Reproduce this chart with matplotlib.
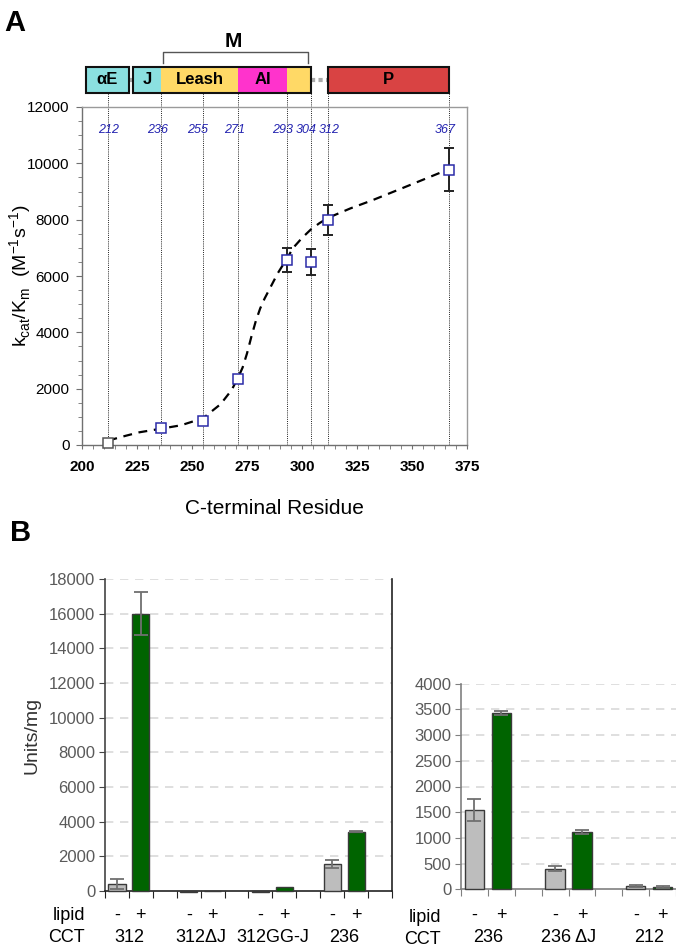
import matplotlib
matplotlib.use("Agg")
import matplotlib.pyplot as plt
import numpy as np
from matplotlib.patches import Rectangle
from matplotlib.transforms import blended_transform_factory

plt.rcParams['font.family'] = ['Liberation Sans', 'DejaVu Sans']

# ---------------- Panel A data ----------------
residues = [212, 236, 255, 271, 293, 304, 312, 367]
kcat_km = [83, 615, 864, 2330, 6570, 6490, 7990, 9770]
kcat_err = [0, 0, 0, 0, 420, 460, 530, 760]
marker_colors = ['#555555', '#2b2ba8', '#2b2ba8', '#2b2ba8', '#2b2ba8', '#2b2ba8', '#2b2ba8', '#2b2ba8']
label_offsets = [0, -1.5, -2.5, -1.5, -2.0, -2.2, 0.5, -2.0]

fit_x = [212, 220, 226, 236, 245, 255, 263, 268, 271, 273, 275, 277, 279, 281, 283, 286, 289, 293,
         296, 300, 304, 308, 312, 322, 332, 345, 356, 367]
fit_y = [160, 330, 450, 580, 700, 950, 1450, 1950, 2400, 2750, 3250, 3850, 4400, 4850, 5200, 5650, 6100, 6600,
         7000, 7350, 7650, 7880, 8070, 8400, 8690, 9100, 9450, 9800]

domains = ['αE', 'J', 'Leash', 'AI', '', 'P']
dom_start = [201.8, 223.2, 236, 271, 293, 312]
dom_end = [221.4, 236, 271, 293, 304, 367]
dom_colors = ['#8be0e0', '#8be0e0', '#ffd966', '#ff33cc', '#ffd966', '#d94343']

# ---------------- Panel B data ----------------
left_groups = ['312', '312ΔJ', '312GG-J', '236']
left_minus = [400, -60, -60, 1550]
left_minus_err = [310, 0, 0, 210]
left_plus = [16000, -20, 240, 3430]
left_plus_err = [1250, 0, 0, 40]

right_groups = ['236', '236 ΔJ', '212']
right_minus = [1550, 400, 70]
right_minus_err = [215, 50, 20]
right_plus = [3430, 1110, 45]
right_plus_err = [45, 40, 15]

W, H = 676, 948
fig = plt.figure(figsize=(W / 100, H / 100), dpi=100)

def fx(px):
    return px / W

def fy(py):
    return 1 - py / H

# ================= Panel A =================
axA = fig.add_axes([fx(82), fy(445), fx(467) - fx(82), fy(107) - fy(445)])
axA.set_xlim(200, 375)
axA.set_ylim(0, 12000)
for s in axA.spines.values():
    s.set_color('#9a9a9a')
    s.set_linewidth(1.0)
axA.spines['left'].set_color('#707070')
axA.spines['bottom'].set_color('#707070')

for r in residues:
    axA.plot([r, r], [0, 12500], color='#222222', lw=0.7, ls=(0, (1, 1.2)), clip_on=False, zorder=1)

axA.plot(fit_x, fit_y, color='black', lw=1.6, ls=(0, (4, 3)), zorder=3)

for x, y, e, c in zip(residues, kcat_km, kcat_err, marker_colors):
    if e > 0:
        axA.errorbar(x, y, yerr=e, fmt='none', ecolor='#222222', elinewidth=1.4, capsize=3.5, capthick=1.4, zorder=4)
    axA.plot(x, y, marker='s', ms=6.5, mfc='white', mec=c, mew=1.1, zorder=5, clip_on=False)

for r, off in zip(residues, label_offsets):
    axA.text(r + off, 11180, str(r), color='#2323b0', style='italic', fontsize=9,
             ha='center', va='center', zorder=6)

axA.set_xticks(np.arange(200, 376, 25))
axA.set_xticks(np.arange(200, 376, 5), minor=True)
axA.set_yticks(np.arange(0, 12001, 2000))
axA.set_yticks(np.arange(0, 12001, 500), minor=True)
axA.tick_params(axis='x', which='both', direction='out', length=3, color='#707070', pad=8, labelsize=11)
axA.tick_params(axis='y', which='major', direction='out', length=4, color='#707070', pad=5, labelsize=11)
axA.tick_params(axis='y', which='minor', direction='out', length=3, color='#707070')
for lab in axA.get_xticklabels():
    lab.set_fontweight('bold')

axA.set_xlabel('C-terminal Residue', fontsize=15, labelpad=18)
axA.set_ylabel(r'k$_{\mathregular{cat}}$/K$_{\mathregular{m}}$  (M$^{\mathregular{-1}}$s$^{\mathregular{-1}}$)',
               fontsize=14, va='center')
axA.yaxis.set_label_coords((21 - 82) / 385, 0.5)

# domain bar
ybot, ytop = 12500, 13420
ymid = (ybot + ytop) / 2
axA.plot([221.4, 223.2], [ymid, ymid], color='#aaaaaa', lw=3, clip_on=False, solid_capstyle='butt', zorder=1)
axA.plot([304, 312], [ymid, ymid], color='#aaaaaa', lw=3, ls=(0, (1, 0.8)), clip_on=False, zorder=1)
for name, a, b, c in zip(domains, dom_start, dom_end, dom_colors):
    axA.add_patch(Rectangle((a, ybot), b - a, ytop - ybot, facecolor=c, edgecolor='none',
                            clip_on=False, zorder=2))
    if name:
        axA.text((a + b) / 2, ymid, name, fontsize=12, fontweight='bold', ha='center', va='center',
                 clip_on=False, zorder=4)
for a, b in [(201.8, 221.4), (223.2, 304), (312, 367)]:
    axA.add_patch(Rectangle((a, ybot), b - a, ytop - ybot, facecolor='none', edgecolor='#111111',
                            lw=1.5, clip_on=False, zorder=3))
axA.plot([236.8, 236.8, 302.7, 302.7], [13560, 13950, 13950, 13560], color='#555555', lw=1.0,
         clip_on=False)
axA.text(268.6, 14330, 'M', fontsize=15, fontweight='bold', ha='center', va='center')

fig.text(fx(15), fy(23), 'A', fontsize=21, fontweight='bold', ha='center', va='center')
fig.text(fx(21), fy(533), 'B', fontsize=21, fontweight='bold', ha='center', va='center')

# ================= Panel B =================
gray_fill = '#bdbdbd'
green_fill = '#006400'
bar_edge = '#3a3a3a'
err_col = '#707070'
tick_col = '#5a5a5a'

def bar_panel(ax, groups, minus, minus_err, plus, plus_err, nslots):
    pos_m = [3 * i for i in range(len(groups))]
    pos_p = [3 * i + 1 for i in range(len(groups))]
    ax.bar(pos_m, minus, width=0.72, color=gray_fill, edgecolor=bar_edge, lw=1.0, zorder=3, clip_on=False)
    ax.bar(pos_p, plus, width=0.72, color=green_fill, edgecolor=bar_edge, lw=1.0, zorder=3, clip_on=False)
    for p, v, e in list(zip(pos_m, minus, minus_err)) + list(zip(pos_p, plus, plus_err)):
        if e > 0:
            ax.errorbar(p, v, yerr=e, fmt='none', ecolor=err_col, elinewidth=1.3, capsize=5,
                        capthick=1.3, zorder=4)
    ax.set_xlim(-0.5, nslots - 0.5)
    ax.set_xticks(np.arange(-0.5, nslots, 1))
    ax.set_xticklabels([])
    trans = blended_transform_factory(ax.transData, fig.transFigure)
    for i, g in enumerate(groups):
        ax.text(pos_m[i], fy(915), '-', transform=trans, fontsize=13, ha='center', va='center')
        ax.text(pos_p[i], fy(915), '+', transform=trans, fontsize=13, ha='center', va='center')
        ax.text(pos_m[i] + 0.5, fy(938), g, transform=trans, fontsize=13, ha='center', va='center')
    return pos_m, pos_p

axL = fig.add_axes([fx(105), fy(891), fx(392) - fx(105), fy(579) - fy(891)])
bar_panel(axL, left_groups, left_minus, left_minus_err, left_plus, left_plus_err, 12)
axL.set_ylim(0, 18000)
axL.set_yticks(np.arange(0, 18001, 2000))
for v in np.arange(2000, 18001, 2000):
    axL.axhline(v, color='#d9d9d9', lw=1.2, ls=(0, (5, 4)), zorder=0)
axL.spines['top'].set_visible(False)
for k in ['left', 'right', 'bottom']:
    axL.spines[k].set_color('#222222')
    axL.spines[k].set_linewidth(1.2)
axL.spines['left'].set_color('#444444')
axL.tick_params(axis='y', direction='out', length=4, color='#444444', labelcolor=tick_col, labelsize=12, pad=3)
axL.tick_params(axis='x', direction='out', length=5, color='#222222')
axL.set_ylabel('Units/mg', fontsize=14, color='#333333', labelpad=6)

axR = fig.add_axes([fx(461), fy(889.3), fx(703) - fx(461), fy(683.7) - fy(889.3)])
bar_panel(axR, right_groups, right_minus, right_minus_err, right_plus, right_plus_err, 9)
axR.set_ylim(0, 4000)
axR.set_yticks(np.arange(0, 4001, 500))
for v in np.arange(500, 4001, 500):
    axR.axhline(v, color='#d9d9d9', lw=1.2, ls=(0, (5, 4)), zorder=0)
for k in ['top', 'right']:
    axR.spines[k].set_visible(False)
for k in ['left', 'bottom']:
    axR.spines[k].set_color('#808080')
    axR.spines[k].set_linewidth(1.2)
axR.tick_params(axis='y', direction='out', length=4, color='#808080', labelcolor=tick_col, labelsize=12, pad=3)
axR.tick_params(axis='x', direction='out', length=5, color='#808080')

for px, py, s in [(69, 915, 'lipid'), (66, 938, 'CCT'), (425, 917, 'lipid'), (422, 940, 'CCT')]:
    fig.text(fx(px), fy(py), s, fontsize=13, ha='center', va='center')

fig.savefig('out.png', dpi=100)
